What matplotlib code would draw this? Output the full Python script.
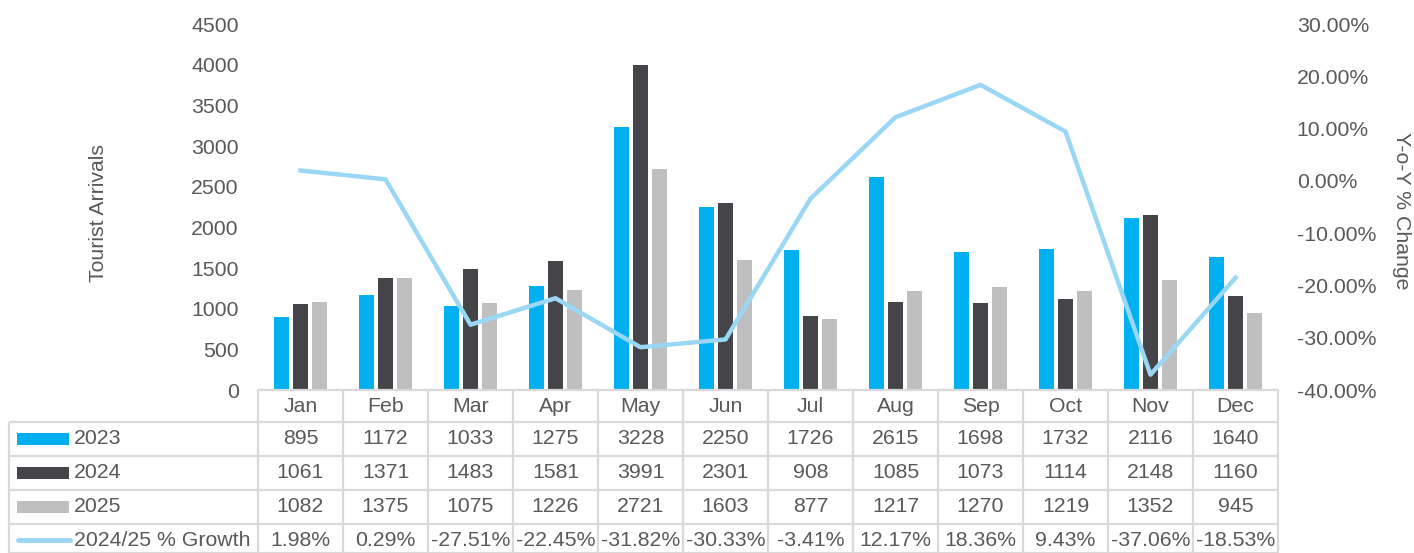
import matplotlib
matplotlib.use("Agg")
import matplotlib.pyplot as plt
import matplotlib.transforms as mtransforms
from matplotlib.ticker import FuncFormatter, MultipleLocator
import numpy as np

months = ["Jan", "Feb", "Mar", "Apr", "May", "Jun", "Jul", "Aug", "Sep", "Oct", "Nov", "Dec"]
arr_2023 = [895, 1172, 1033, 1275, 3228, 2250, 1726, 2615, 1698, 1732, 2116, 1640]
arr_2024 = [1061, 1371, 1483, 1581, 3991, 2301, 908, 1085, 1073, 1114, 2148, 1160]
arr_2025 = [1082, 1375, 1075, 1226, 2721, 1603, 877, 1217, 1270, 1219, 1352, 945]
growth = [1.98, 0.29, -27.51, -22.45, -31.82, -30.33, -3.41, 12.17, 18.36, 9.43, -37.06, -18.53]
series_names = ["2023", "2024", "2025", "2024/25 % Growth"]

C23, C24, C25, CLINE = "#00B0F0", "#454549", "#BFBFBF", "#9AD7F4"
TXT = "#595959"
GRID = "#D9D9D9"
FS = 15.3

plt.rcParams["font.family"] = ["Liberation Sans", "DejaVu Sans"]

W, H = 1414, 553
fig = plt.figure(figsize=(W / 100, H / 100), dpi=100)

def fy(py):
    return 1 - py / H

def fx(px):
    return px / W

ax = fig.add_axes([fx(258), fy(390), fx(1278) - fx(258), fy(24) - fy(390)])
x = np.arange(len(months))
bw = 0.178
off = 0.224
ax.bar(x - off, arr_2023, bw, color=C23, zorder=2)
ax.bar(x, arr_2024, bw, color=C24, zorder=2)
ax.bar(x + off, arr_2025, bw, color=C25, zorder=2)
ax.set_xlim(-0.5, len(months) - 0.5)
ax.set_ylim(0, 4500)
ax.yaxis.set_major_locator(MultipleLocator(500))
ax.set_xticks([])
for s in ax.spines.values():
    s.set_visible(False)
ax.tick_params(axis="y", length=0, pad=14, labelsize=FS, labelcolor=TXT)

ax2 = ax.twinx()
ax2.plot(x, np.array(growth) / 100, color=CLINE, lw=3.2, solid_joinstyle="round", zorder=3)
ax2.set_ylim(-0.4, 0.3)
ax2.yaxis.set_major_locator(MultipleLocator(0.1))
ax2.yaxis.set_major_formatter(FuncFormatter(lambda v, p: f"{v*100:.2f}%"))
for s in ax2.spines.values():
    s.set_visible(False)
ax2.tick_params(axis="y", length=0, pad=13.5, labelsize=FS, labelcolor=TXT)

fig.text(fx(99), fy(213), "Tourist Arrivals", rotation=90, ha="center", va="center",
         rotation_mode="anchor", fontsize=FS, color=TXT)
fig.text(fx(1402), fy(211), "Y-o-Y % Change", rotation=270, ha="center", va="center",
         rotation_mode="anchor", fontsize=FS, color=TXT)

# Data table below the plot
tr = mtransforms.blended_transform_factory(ax.transData, fig.transFigure)
trf = fig.transFigure
rows_y = [390, 422, 456, 490, 524, 553]
x0, x1 = -0.5, len(months) - 0.5
lkw = dict(color=GRID, lw=1.6, clip_on=False, solid_capstyle="butt")

fig.add_artist(plt.Line2D([x0, x1], [fy(390), fy(390)], transform=tr, **lkw))
for py in rows_y[1:]:
    fig.add_artist(plt.Line2D([fx(9), fx(258)], [fy(py), fy(py)], transform=trf, **lkw))
    fig.add_artist(plt.Line2D([x0, x1], [fy(py), fy(py)], transform=tr, **lkw))
for i in range(len(months) + 1):
    xi = x0 + i
    fig.add_artist(plt.Line2D([xi, xi], [fy(390), fy(553)], transform=tr, **lkw))
fig.add_artist(plt.Line2D([fx(9), fx(9)], [fy(422), fy(553)], transform=trf, **lkw))

for i, m in enumerate(months):
    fig.text(i, fy(406), m, transform=tr, ha="center", va="center", fontsize=FS, color=TXT)

row_vals = [
    [str(v) for v in arr_2023],
    [str(v) for v in arr_2024],
    [str(v) for v in arr_2025],
    [f"{v:.2f}%" for v in growth],
]
row_centers = [439, 473, 507, 540]
colors = [C23, C24, C25, CLINE]
for r, (vals, cy) in enumerate(zip(row_vals, row_centers)):
    for i, v in enumerate(vals):
        fig.text(i, fy(cy), v, transform=tr, ha="center", va="center", fontsize=FS, color=TXT)
    if r < 3:
        fig.add_artist(plt.Rectangle((fx(17), fy(cy + 6)), fx(52), fy(cy - 6) - fy(cy + 6),
                                     transform=trf, color=colors[r], lw=0))
    else:
        fig.add_artist(plt.Line2D([fx(18), fx(70)], [fy(cy), fy(cy)], transform=trf,
                                  color=CLINE, lw=3.5, solid_capstyle="round"))
    fig.text(fx(74), fy(cy), series_names[r], transform=trf, ha="left", va="center",
             fontsize=FS, color=TXT)

fig.savefig("out.png", dpi=100)
